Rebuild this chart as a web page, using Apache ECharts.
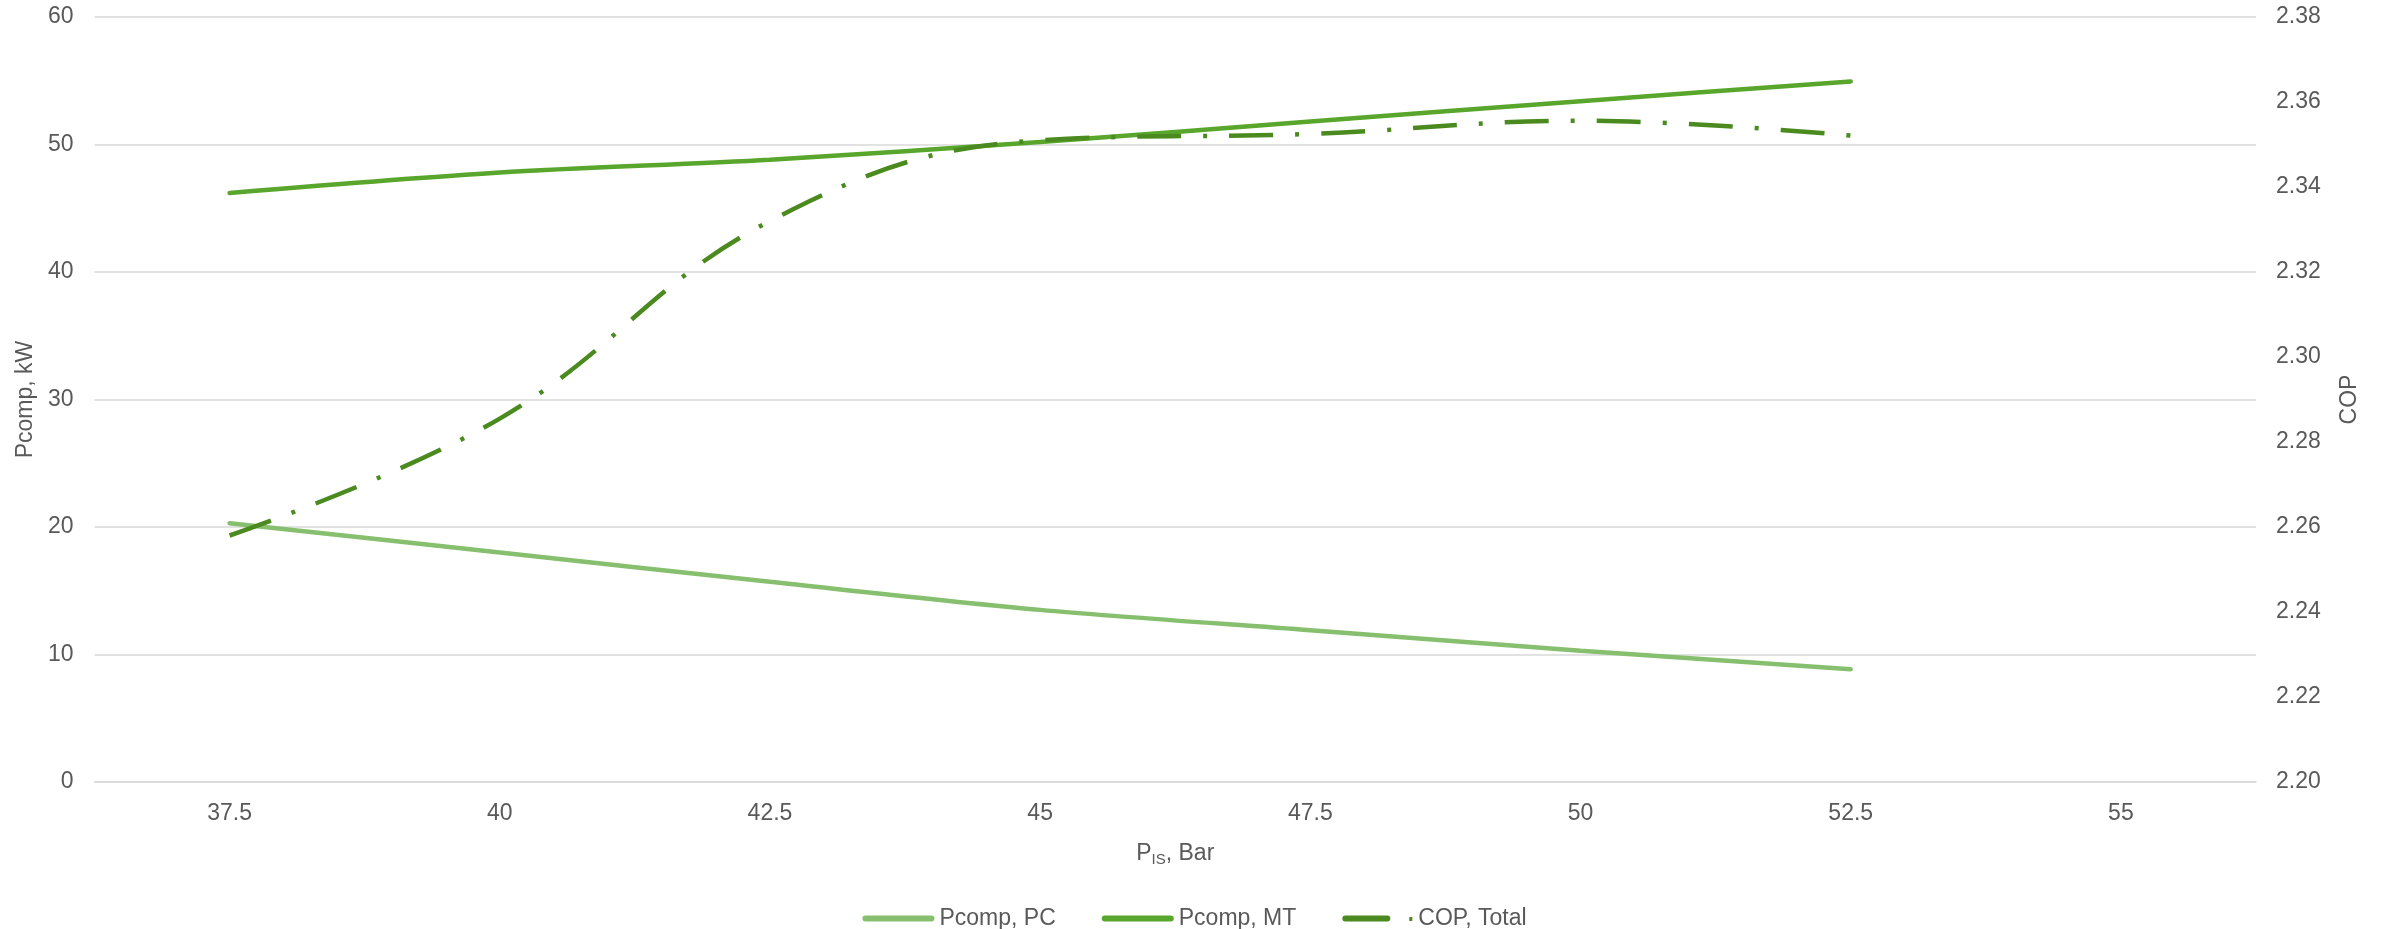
<!DOCTYPE html>
<html>
<head>
<meta charset="utf-8">
<script src="https://cdn.jsdelivr.net/npm/echarts@6/dist/echarts.min.js"></script>
<style>
html,body{margin:0;padding:0;background:#fff;}
#chart{width:2389px;height:929px;}
</style>
</head>
<body>
<div id="chart"></div>
<script>
var categories = ['37.5', '40', '42.5', '45', '47.5', '50', '52.5', '55'];
var pcompPC = [20.3, 18.0, 15.7, 13.5, 11.9, 10.3, 8.85];
var pcompMT = [46.2, 47.8, 48.8, 50.2, 51.8, 53.4, 54.95];
var copTotal = [2.258, 2.2855, 2.332, 2.351, 2.3525, 2.3556, 2.3521];
var seriesNames = ['Pcomp, PC', 'Pcomp, MT', 'COP, Total'];

var FONT = '"Liberation Sans", Arial, sans-serif';
var TXT = '#595959';
var GRID = '#d9d9d9';
var C_PC = '#86bf6e', C_MT = '#58a62b', C_COP = '#4a8a1f';

var chart = echarts.init(document.getElementById('chart'), null, {renderer: 'canvas'});
chart.setOption({
  animation: false,
  backgroundColor: '#ffffff',
  textStyle: {fontFamily: FONT, color: TXT},
  grid: {left: 94.5, right: 133, top: 17, bottom: 147, containLabel: false},
  legend: {
    data: [
      {name: seriesNames[0], icon: 'path://M3,0H69A3,3 0 0 1 69,6H3A3,3 0 0 1 3,0Z', itemStyle: {color: C_PC}},
      {name: seriesNames[1], icon: 'path://M3,0H69A3,3 0 0 1 69,6H3A3,3 0 0 1 3,0Z', itemStyle: {color: C_MT}},
      {name: seriesNames[2], icon: 'path://M3,0H45A3,3 0 0 1 45,6H3A3,3 0 0 1 3,0Z M67,1.5H70V5.5H67Z', itemStyle: {color: C_COP}}
    ],
    left: 'center',
    top: 902,
    itemWidth: 72,
    itemHeight: 6,
    itemGap: 46,
    textStyle: {fontFamily: FONT, fontSize: 23, color: TXT}
  },
  xAxis: {
    type: 'category',
    data: categories,
    boundaryGap: true,
    axisTick: {show: false},
    axisLine: {show: true, lineStyle: {color: GRID, width: 1.5}},
    axisLabel: {fontFamily: FONT, fontSize: 23, color: TXT, margin: 20},
    name: 'P{sub|IS}, Bar',
    nameLocation: 'middle',
    nameGap: 58,
    nameTextStyle: {
      fontFamily: FONT, fontSize: 23, color: TXT,
      rich: {sub: {fontFamily: FONT, fontSize: 15, color: TXT, verticalAlign: 'bottom', padding: [12, 0, 0, 0]}}
    }
  },
  yAxis: [{
    type: 'value',
    min: 0, max: 60, interval: 10,
    axisLine: {show: false},
    axisTick: {show: false},
    splitLine: {show: true, lineStyle: {color: GRID, width: 1.5}},
    axisLabel: {fontFamily: FONT, fontSize: 23, color: TXT, margin: 21},
    name: 'Pcomp, kW',
    nameLocation: 'middle',
    nameGap: 54,
    nameRotate: 90,
    nameTextStyle: {fontFamily: FONT, fontSize: 23, color: TXT}
  }, {
    type: 'value',
    min: 2.2, max: 2.38, interval: 0.02,
    position: 'right',
    axisLine: {show: false},
    axisTick: {show: false},
    splitLine: {show: false},
    axisLabel: {fontFamily: FONT, fontSize: 23, color: TXT, margin: 20,
      formatter: function (v) { return v.toFixed(2); }},
    name: 'COP',
    nameLocation: 'middle',
    nameGap: 82,
    nameRotate: 90,
    nameTextStyle: {fontFamily: FONT, fontSize: 23, color: TXT}
  }],
  series: [{
    name: seriesNames[0],
    type: 'line',
    data: pcompPC,
    yAxisIndex: 0,
    symbol: 'none',
    smooth: 0.3,
    lineStyle: {color: C_PC, width: 4.5, cap: 'round'},
    itemStyle: {color: C_PC}
  }, {
    name: seriesNames[1],
    type: 'line',
    data: pcompMT,
    yAxisIndex: 0,
    symbol: 'none',
    smooth: 0.3,
    lineStyle: {color: C_MT, width: 4.5, cap: 'round'},
    itemStyle: {color: C_MT}
  }, {
    name: seriesNames[2],
    type: 'line',
    data: copTotal,
    yAxisIndex: 1,
    symbol: 'none',
    smooth: 0.4,
    lineStyle: {color: C_COP, width: 4.5, type: [44, 22, 4, 22], cap: 'butt'},
    itemStyle: {color: C_COP}
  }]
});
</script>
</body>
</html>
